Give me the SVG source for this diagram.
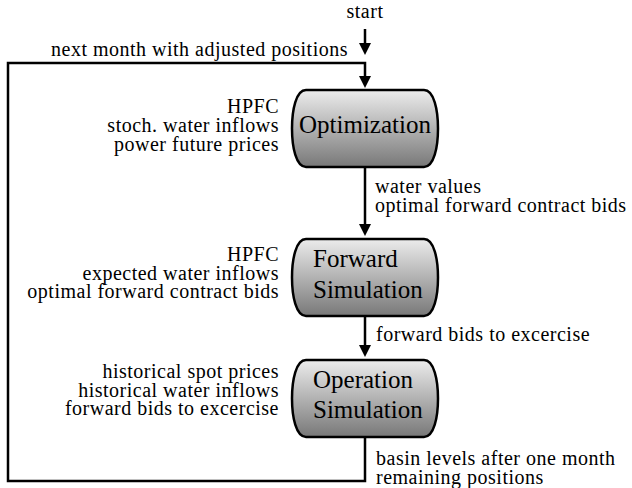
<svg xmlns="http://www.w3.org/2000/svg" width="632" height="488" viewBox="0 0 632 488">
  <style>
    .lbl { font-family: "Liberation Serif", "Times New Roman", serif; font-size: 20px; letter-spacing: 0.5px; fill: #000; }
    .end { text-anchor: end; }
    .title { font-family: "Liberation Serif", "Times New Roman", serif; font-size: 25px; fill: #000; }
    .node { fill: url(#shade); stroke: #000; stroke-width: 2.5; }
    .wire { fill: none; stroke: #000; stroke-width: 2.5; stroke-linejoin: miter; marker-end: url(#head); }
  </style>
  <defs>
    <linearGradient id="shade" x1="0" y1="0" x2="0" y2="1">
      <stop offset="0" stop-color="#ececec"/>
      <stop offset="1" stop-color="#787878"/>
    </linearGradient>
    <marker id="head" markerUnits="userSpaceOnUse" viewBox="0 0 12 12" refX="6" refY="6" markerWidth="12" markerHeight="12" orient="auto">
      <path d="M0,0 L12,6 L0,12 Z" fill="#000"/>
    </marker>
  </defs>

  <!-- flow connectors -->
  <g id="connectors">
    <path class="wire" d="M365,29 V49"/>
    <path class="wire" d="M365,437 V481 H8 V63 H365 V82"/>
    <path class="wire" d="M365,167 V230"/>
    <path class="wire" d="M365,316 V351"/>
  </g>

  <!-- edge labels -->
  <g id="edge-labels">
    <text class="lbl" x="365" y="18" text-anchor="middle">start</text>
    <text class="lbl end" x="348" y="56">next month with adjusted positions</text>
    <text class="lbl" x="375" y="193">water values</text>
    <text class="lbl" x="375" y="212">optimal forward contract bids</text>
    <text class="lbl" x="376" y="341">forward bids to excercise</text>
    <text class="lbl" x="376" y="465">basin levels after one month</text>
    <text class="lbl" x="376" y="484">remaining positions</text>
  </g>

  <!-- optimization stage -->
  <g id="optimization">
    <path class="node" d="M306,90 H424 C434,90 438,110 438,128.5 C438,147 434,167 424,167 H306 C296,167 292,147 292,128.5 C292,110 296,90 306,90 Z"/>
    <text class="title" x="365" y="133" text-anchor="middle">Optimization</text>
    <text class="lbl end" x="279" y="113">HPFC</text>
    <text class="lbl end" x="279" y="132">stoch. water inflows</text>
    <text class="lbl end" x="279" y="151">power future prices</text>
  </g>

  <!-- forward simulation stage -->
  <g id="forward-simulation">
    <path class="node" d="M306,239 H424 C434,239 438,259 438,277.5 C438,296 434,316 424,316 H306 C296,316 292,296 292,277.5 C292,259 296,239 306,239 Z"/>
    <text class="title" x="313" y="267">Forward</text>
    <text class="title" x="313" y="298">Simulation</text>
    <text class="lbl end" x="279" y="261">HPFC</text>
    <text class="lbl end" x="279" y="280">expected water inflows</text>
    <text class="lbl end" x="279" y="298">optimal forward contract bids</text>
  </g>

  <!-- operation simulation stage -->
  <g id="operation-simulation">
    <path class="node" d="M306,360 H424 C434,360 438,380 438,398.5 C438,417 434,437 424,437 H306 C296,437 292,417 292,398.5 C292,380 296,360 306,360 Z"/>
    <text class="title" x="313" y="388">Operation</text>
    <text class="title" x="313" y="418">Simulation</text>
    <text class="lbl end" x="279" y="378">historical spot prices</text>
    <text class="lbl end" x="279" y="397">historical water inflows</text>
    <text class="lbl end" x="279" y="415">forward bids to excercise</text>
  </g>
</svg>
